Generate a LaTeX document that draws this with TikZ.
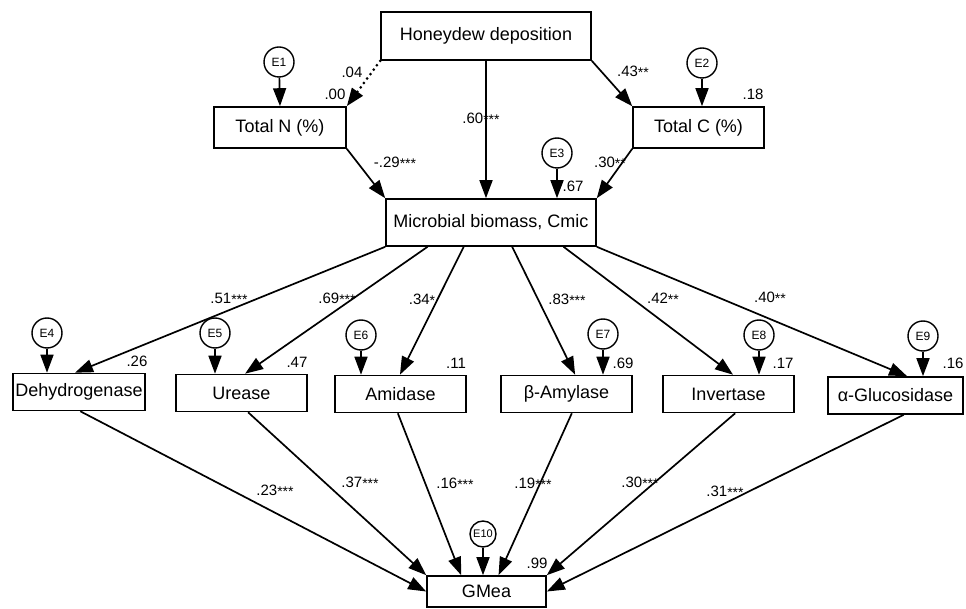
\documentclass[tikz,border=0pt]{standalone}
\usepackage{fontspec}
\setmainfont{Liberation Sans}
\usetikzlibrary{positioning, arrows.meta, calc}

\newcommand{\sig}[1]{{\fontsize{14}{14}\selectfont\raisebox{-1.5pt}{#1}}}

\tikzset{
  var/.style={draw, line width=1.6pt, minimum width=131pt, minimum height=37pt, inner sep=0pt, font=\fontsize{18}{18}\selectfont},
  err/.style={draw, circle, line width=1.4pt, minimum size=30pt, inner sep=0pt, font=\fontsize{12}{12}\selectfont},
  coef/.style={font=\fontsize{15}{15}\selectfont, inner sep=0pt},
  link/.style={line width=1.7pt, -{Triangle[length=18pt,width=13pt]}},
}

\begin{document}
\begin{tikzpicture}[x=1pt, y=-1pt]
  \useasboundingbox (0,0) rectangle (966,609);

  %Observed variables
  \node[var, minimum width=210pt, minimum height=48pt] (hd) at (486,36) {Honeydew deposition};
  \node[var, minimum width=132pt, minimum height=41pt] (tn) at (280,127.5) {Total N (\%)};
  \node[var, minimum height=41pt] (tc) at (698.5,127.5) {Total C (\%)};
  \node[var, minimum width=210pt, minimum height=47pt] (mb) at (491,222.5) {Microbial biomass, Cmic};
  \node[var, minimum width=132pt] (dh) at (79,392) {Dehydrogenase};
  \node[var] (ur) at (241.5,393) {Urease};
  \node[var] (am) at (400.5,394) {Amidase};
  \node[var] (ba) at (566.5,394) {β-Amylase};
  \node[var] (iv) at (728.5,394) {Invertase};
  \node[var, minimum width=135pt] (ag) at (895.5,395.5) {α-Glucosidase};
  \node[var, minimum width=119pt, minimum height=31pt] (gm) at (486.5,591.5) {GMea};

  %Error terms
  \foreach \n/\x/\y in {1/279/62, 2/702/63, 3/557/153, 4/47/333, 5/215/333,
                        6/361/335, 7/603/334, 8/759/335, 9/923/336}
    \node[err] (e\n) at (\x,\y) {E\n};
  \node[err, minimum size=26pt, font=\fontsize{11}{11}\selectfont] (e10) at (483,534) {E10};

  %Top paths
  \draw[link, line width=3pt, line cap=round, dash pattern=on 0pt off 5.5pt] (hd.south west) -- (tn.north east);
  \draw[link] (hd.south east) -- (tc.north west);
  \draw[link] (hd.south) -- (hd.south |- mb.north);
  \draw[link] (tn.south east) -- (mb.north west);
  \draw[link] (tc.south west) -- (mb.north east);
  \draw[link] (e1) -- (tn.north);
  \draw[link] (e2) -- (e2 |- tc.north);
  \draw[link] (e3) -- (e3 |- mb.north);

  %Microbial biomass to enzymes
  \foreach \f/\n/\g in {0/dh/.47, .2/ur/.527, .371/am/.496, .6/ba/.565, .843/iv/.534, 1/ag/.585}
    \draw[link] ($(mb.south west)!\f!(mb.south east)$) -- ($(\n.north west)!\g!(\n.north east)$);
  \foreach \k/\n in {4/dh, 5/ur, 6/am, 7/ba, 8/iv, 9/ag}
    \draw[link] (e\k) -- (e\k |- \n.north);

  %Enzymes to GMea
  \coordinate (gm-am) at ($(gm.north west)!.29!(gm.north east)$);
  \coordinate (gm-ba) at ($(gm.north west)!.6!(gm.north east)$);
  \foreach \n/\f/\t in {dh/.51/gm.west, ur/.55/gm.north west, am/.48/gm-am,
                        ba/.54/gm-ba, iv/.55/gm.north east, ag/.56/gm.east}
    \draw[link] ($(\n.south west)!\f!(\n.south east)$) -- (\t);
  \draw[link] (e10) -- (e10 |- gm.north);

  %Coefficients
  \foreach \x/\y/\t [count=\i] in {
      352/72/.04, 335/94/.00, 633/72/.43\sig{**}, 753/94/.18, 481/119/.60\sig{***},
      573/186/.67, 395/163/-.29\sig{***}, 610/163/.30\sig{**},
      229/299/.51\sig{***}, 337/299/.69\sig{***}, 422/300/.34\sig{*},
      567/300/.83\sig{***}, 663/299/.42\sig{**}, 770/298/.40\sig{**},
      137/361/.26, 297/362/.47, 456/363/.11, 623/363/.69, 783/363/.17, 953/363/.16,
      275/491/.23\sig{***}, 360/483/.37\sig{***}, 455/484/.16\sig{***},
      533/484/.19\sig{***}, 640/483/.30\sig{***}, 725/492/.31\sig{***}, 537/563/.99}
    \node[coef] (c\i) at (\x,\y) {\t};

\end{tikzpicture}
\end{document}
